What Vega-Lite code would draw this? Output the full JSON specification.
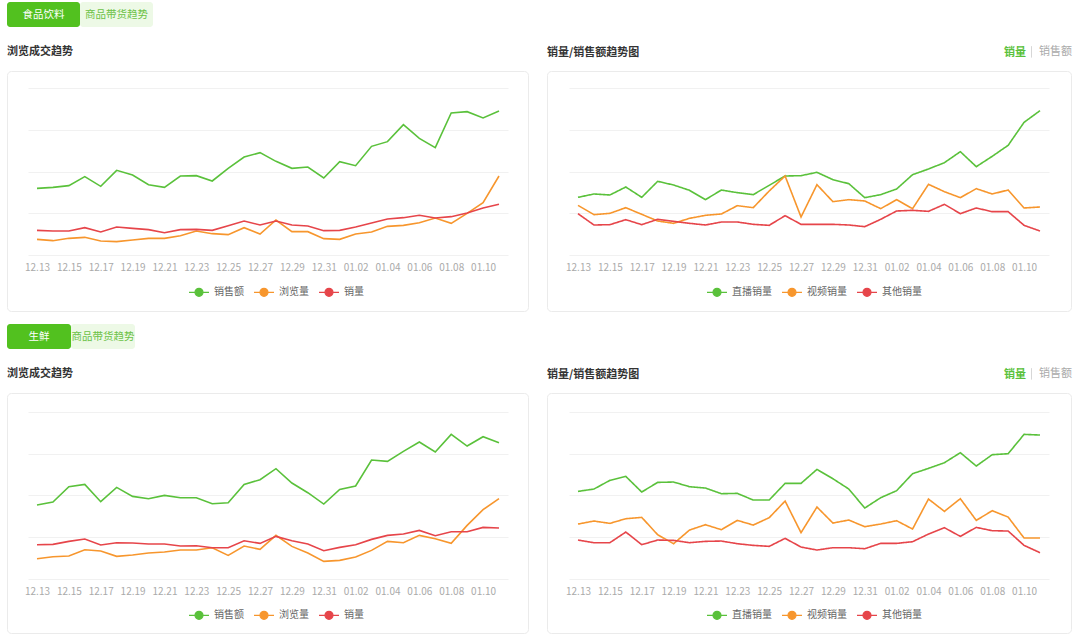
{
  "$schema": "https://vega.github.io/schema/vega-lite/v6.json",
  "padding": {"left": 6, "top": 2, "right": 4, "bottom": 2},
  "background": "#ffffff",
  "datasets": {
    "p1": [
      {"date":"12.13","销售额":1600,"浏览量":376,"销量":592},
      {"date":"12.14","销售额":1624,"浏览量":344,"销量":576},
      {"date":"12.15","销售额":1664,"浏览量":400,"销量":576},
      {"date":"12.16","销售额":1880,"浏览量":424,"销量":656},
      {"date":"12.17","销售额":1648,"浏览量":336,"销量":552},
      {"date":"12.18","销售额":2032,"浏览量":320,"销量":672},
      {"date":"12.19","销售额":1920,"浏览量":360,"销量":640},
      {"date":"12.20","销售额":1688,"浏览量":400,"销量":608},
      {"date":"12.21","销售额":1624,"浏览量":400,"销量":536},
      {"date":"12.22","销售额":1896,"浏览量":464,"销量":608},
      {"date":"12.23","销售额":1904,"浏览量":576,"销量":616},
      {"date":"12.24","销售额":1776,"浏览量":512,"销量":592},
      {"date":"12.25","销售额":2080,"浏览量":488,"销量":704},
      {"date":"12.26","销售额":2352,"浏览量":656,"销量":816},
      {"date":"12.27","销售额":2456,"浏览量":504,"销量":720},
      {"date":"12.28","销售额":2248,"浏览量":840,"销量":816},
      {"date":"12.29","销售额":2080,"浏览量":560,"销量":720},
      {"date":"12.30","销售额":2112,"浏览量":560,"销量":696},
      {"date":"12.31","销售额":1848,"浏览量":392,"销量":584},
      {"date":"01.01","销售额":2240,"浏览量":376,"销量":592},
      {"date":"01.02","销售额":2144,"浏览量":504,"销量":672},
      {"date":"01.03","销售额":2608,"浏览量":552,"销量":768},
      {"date":"01.04","销售额":2720,"浏览量":688,"销量":864},
      {"date":"01.05","销售额":3128,"浏览量":712,"销量":896},
      {"date":"01.06","销售额":2800,"浏览量":776,"销量":952},
      {"date":"01.07","销售额":2576,"浏览量":888,"销量":888},
      {"date":"01.08","销售额":3408,"浏览量":760,"销量":920},
      {"date":"01.09","销售额":3440,"浏览量":1000,"销量":1008},
      {"date":"01.10","销售额":3288,"浏览量":1256,"销量":1128},
      {"date":"01.11","销售额":3456,"浏览量":1896,"销量":1216}
    ],
    "p2": [
      {"date":"12.13","metric":"销量","直播销量":1384,"视频销量":1192,"其他销量":992},
      {"date":"12.14","metric":"销量","直播销量":1464,"视频销量":968,"其他销量":720},
      {"date":"12.15","metric":"销量","直播销量":1440,"视频销量":1000,"其他销量":728},
      {"date":"12.16","metric":"销量","直播销量":1632,"视频销量":1136,"其他销量":848},
      {"date":"12.17","metric":"销量","直播销量":1384,"视频销量":976,"其他销量":728},
      {"date":"12.18","metric":"销量","直播销量":1768,"视频销量":816,"其他销量":856},
      {"date":"12.19","metric":"销量","直播销量":1680,"视频销量":760,"其他销量":808},
      {"date":"12.20","metric":"销量","直播销量":1552,"视频销量":880,"其他销量":760},
      {"date":"12.21","metric":"销量","直播销量":1328,"视频销量":952,"其他销量":720},
      {"date":"12.22","metric":"销量","直播销量":1560,"视频销量":984,"其他销量":792},
      {"date":"12.23","metric":"销量","直播销量":1496,"视频销量":1184,"其他销量":792},
      {"date":"12.24","metric":"销量","直播销量":1448,"视频销量":1136,"其他销量":736},
      {"date":"12.25","metric":"销量","直播销量":1672,"视频销量":1536,"其他销量":712},
      {"date":"12.26","metric":"销量","直播销量":1896,"视频销量":1896,"其他销量":944},
      {"date":"12.27","metric":"销量","直播销量":1904,"视频销量":912,"其他销量":736},
      {"date":"12.28","metric":"销量","直播销量":1984,"视频销量":1688,"其他销量":736},
      {"date":"12.29","metric":"销量","直播销量":1808,"视频销量":1280,"其他销量":736},
      {"date":"12.30","metric":"销量","直播销量":1712,"视频销量":1328,"其他销量":720},
      {"date":"12.31","metric":"销量","直播销量":1376,"视频销量":1296,"其他销量":680},
      {"date":"01.01","metric":"销量","直播销量":1448,"视频销量":1112,"其他销量":856},
      {"date":"01.02","metric":"销量","直播销量":1584,"视频销量":1328,"其他销量":1056},
      {"date":"01.03","metric":"销量","直播销量":1928,"视频销量":1112,"其他销量":1072},
      {"date":"01.04","metric":"销量","直播销量":2064,"视频销量":1696,"其他销量":1048},
      {"date":"01.05","metric":"销量","直播销量":2216,"视频销量":1520,"其他销量":1216},
      {"date":"01.06","metric":"销量","直播销量":2480,"视频销量":1376,"其他销量":992},
      {"date":"01.07","metric":"销量","直播销量":2120,"视频销量":1592,"其他销量":1128},
      {"date":"01.08","metric":"销量","直播销量":2368,"视频销量":1464,"其他销量":1040},
      {"date":"01.09","metric":"销量","直播销量":2632,"视频销量":1560,"其他销量":1040},
      {"date":"01.10","metric":"销量","直播销量":3184,"视频销量":1128,"其他销量":712},
      {"date":"01.11","metric":"销量","直播销量":3464,"视频销量":1152,"其他销量":576}
    ],
    "p3": [
      {"date":"12.13","销售额":1768,"浏览量":480,"销量":816},
      {"date":"12.14","销售额":1840,"浏览量":528,"销量":824},
      {"date":"12.15","销售额":2208,"浏览量":544,"销量":896},
      {"date":"12.16","销售额":2264,"浏览量":696,"销量":952},
      {"date":"12.17","销售额":1848,"浏览量":664,"销量":808},
      {"date":"12.18","销售额":2192,"浏览量":536,"销量":864},
      {"date":"12.19","销售额":1976,"浏览量":568,"销量":856},
      {"date":"12.20","销售额":1920,"浏览量":616,"销量":832},
      {"date":"12.21","销售额":2000,"浏览量":640,"销量":832},
      {"date":"12.22","销售额":1944,"浏览量":688,"销量":784},
      {"date":"12.23","销售额":1944,"浏览量":688,"销量":792},
      {"date":"12.24","销售额":1800,"浏览量":744,"销量":744},
      {"date":"12.25","销售额":1824,"浏览量":560,"销量":744},
      {"date":"12.26","销售额":2264,"浏览量":784,"销量":912},
      {"date":"12.27","销售额":2376,"浏览量":704,"销量":848},
      {"date":"12.28","销售额":2640,"浏览量":1040,"销量":1016},
      {"date":"12.29","销售额":2296,"浏览量":776,"销量":912},
      {"date":"12.30","销售额":2064,"浏览量":616,"销量":832},
      {"date":"12.31","销售额":1792,"浏览量":416,"销量":672},
      {"date":"01.01","销售额":2144,"浏览量":440,"销量":752},
      {"date":"01.02","销售额":2224,"浏览量":520,"销量":816},
      {"date":"01.03","销售额":2848,"浏览量":680,"销量":944},
      {"date":"01.04","销售额":2816,"浏览量":896,"销量":1040},
      {"date":"01.05","销售额":3056,"浏览量":864,"销量":1072},
      {"date":"01.06","销售额":3280,"浏览量":1040,"销量":1160},
      {"date":"01.07","销售额":3040,"浏览量":960,"销量":1032},
      {"date":"01.08","销售额":3464,"浏览量":848,"销量":1128},
      {"date":"01.09","销售额":3184,"浏览量":1280,"销量":1128},
      {"date":"01.10","销售额":3408,"浏览量":1656,"销量":1232},
      {"date":"01.11","销售额":3264,"浏览量":1920,"销量":1216}
    ],
    "p4": [
      {"date":"12.13","metric":"销量","直播销量":2096,"视频销量":1312,"其他销量":928},
      {"date":"12.14","metric":"销量","直播销量":2152,"视频销量":1384,"其他销量":864},
      {"date":"12.15","metric":"销量","直播销量":2360,"视频销量":1328,"其他销量":864},
      {"date":"12.16","metric":"销量","直播销量":2456,"视频销量":1440,"其他销量":1120},
      {"date":"12.17","metric":"销量","直播销量":2080,"视频销量":1472,"其他销量":816},
      {"date":"12.18","metric":"销量","直播销量":2312,"视频销量":1056,"其他销量":928},
      {"date":"12.19","metric":"销量","直播销量":2320,"视频销量":840,"其他销量":920},
      {"date":"12.20","metric":"销量","直播销量":2208,"视频销量":1168,"其他销量":864},
      {"date":"12.21","metric":"销量","直播销量":2176,"视频销量":1296,"其他销量":896},
      {"date":"12.22","metric":"销量","直播销量":2040,"视频销量":1176,"其他销量":904},
      {"date":"12.23","metric":"销量","直播销量":2048,"视频销量":1400,"其他销量":840},
      {"date":"12.24","metric":"销量","直播销量":1888,"视频销量":1288,"其他销量":800},
      {"date":"12.25","metric":"销量","直播销量":1888,"视频销量":1464,"其他销量":776},
      {"date":"12.26","metric":"销量","直播销量":2288,"视频销量":1864,"其他销量":968},
      {"date":"12.27","metric":"销量","直播销量":2288,"视频销量":1104,"其他销量":760},
      {"date":"12.28","metric":"销量","直播销量":2624,"视频销量":1720,"其他销量":688},
      {"date":"12.29","metric":"销量","直播销量":2400,"视频销量":1336,"其他销量":744},
      {"date":"12.30","metric":"销量","直播销量":2152,"视频销量":1408,"其他销量":744},
      {"date":"12.31","metric":"销量","直播销量":1696,"视频销量":1248,"其他销量":720},
      {"date":"01.01","metric":"销量","直播销量":1944,"视频销量":1312,"其他销量":848},
      {"date":"01.02","metric":"销量","直播销量":2112,"视频销量":1392,"其他销量":848},
      {"date":"01.03","metric":"销量","直播销量":2520,"视频销量":1192,"其他销量":888},
      {"date":"01.04","metric":"销量","直播销量":2648,"视频销量":1912,"其他销量":1072},
      {"date":"01.05","metric":"销量","直播销量":2784,"视频销量":1616,"其他销量":1224},
      {"date":"01.06","metric":"销量","直播销量":3024,"视频销量":1920,"其他销量":1016},
      {"date":"01.07","metric":"销量","直播销量":2704,"视频销量":1400,"其他销量":1232},
      {"date":"01.08","metric":"销量","直播销量":2976,"视频销量":1632,"其他销量":1152},
      {"date":"01.09","metric":"销量","直播销量":3000,"视频销量":1480,"其他销量":1144},
      {"date":"01.10","metric":"销量","直播销量":3464,"视频销量":976,"其他销量":800},
      {"date":"01.11","metric":"销量","直播销量":3448,"视频销量":976,"其他销量":624}
    ]
  },
  "spacing": 12,
  "resolve": {"scale": {"x": "independent", "y": "independent", "color": "independent", "strokeDash": "independent"}, "legend": {"color": "independent", "strokeDash": "independent"}},
  "vconcat": [
    {
      "spacing": 18,
      "resolve": {"scale": {"x": "independent", "y": "independent", "color": "independent", "strokeDash": "independent"}, "legend": {"color": "independent", "strokeDash": "independent"}},
      "vconcat": [
        {
          "width": 146, "height": 25,
          "view": {"stroke": null},
          "data": {"values": [{"tab": "食品饮料", "state": "当前"}, {"tab": "商品带货趋势", "state": "其他"}]},
          "encoding": {"x": {"field": "tab", "type": "nominal", "sort": null, "scale": {"paddingInner": 0, "paddingOuter": 0}, "axis": null}},
          "layer": [
            {"mark": {"type": "rect", "cornerRadius": 3}, "encoding": {"color": {"condition": {"test": "datum.state === '当前'", "value": "#52c11f"}, "value": "#edf9e6"}}},
            {"mark": {"type": "text", "fontSize": 10.5}, "encoding": {"text": {"field": "tab"}, "color": {"condition": {"test": "datum.state === '当前'", "value": "#ffffff"}, "value": "#6cc247"}}}
          ]
        },
        {
          "spacing": 17,
          "resolve": {"scale": {"x": "independent", "y": "independent", "color": "independent", "strokeDash": "independent"}, "legend": {"color": "independent", "strokeDash": "independent"}},
          "hconcat": [
            {
              "width": 521, "height": 240,
              "title": {"text": "浏览成交趋势"},
              "data": {"name": "p1"},
              "transform": [{"fold": ["销售额", "浏览量", "销量"], "as": ["series", "value"]}],
              "mark": {"type": "line", "strokeWidth": 1.6},
              "encoding": {
                "x": {"field": "date", "type": "ordinal", "sort": null, "scale": {"type": "point", "range": [21, 501], "padding": 0.565},
                      "axis": {"values": ["12.13","12.15","12.17","12.19","12.21","12.23","12.25","12.27","12.29","12.31","01.02","01.04","01.06","01.08","01.10"], "offset": -56, "labelAngle": 0, "labelPadding": 7, "title": null, "grid": false}},
                "y": {"field": "value", "type": "quantitative", "scale": {"domain": [-1344, 4416], "nice": false, "zero": false},
                      "axis": {"values": [0, 1000, 2000, 3000, 4000], "labels": false, "title": null, "grid": true}},
                "color": {"field": "series", "type": "nominal", "scale": {"domain": ["销售额", "浏览量", "销量"], "range": ["#5ac13b", "#f7962d", "#e6454a"]},
                          "legend": {"orient": "none", "legendX": 181, "legendY": 210, "direction": "horizontal", "title": null,
                                     "symbolType": "M-1,0L-0.4,0M0.4,0L1,0M0.4,0A0.4,0.4 0 1 1 -0.4,0A0.4,0.4 0 1 1 0.4,0Z",
                                     "symbolSize": 400, "symbolStrokeWidth": 1.2, "labelOffset": 4, "columnPadding": 7,
                                     "encode": {"symbols": {"update": {"fill": {"signal": "datum.value === '销售额' ? '#5ac13b' : datum.value === '浏览量' ? '#f7962d' : '#e6454a'"}}}}}}
              }
            },
            {
              "width": 524, "height": 240,
              "data": {"name": "p2"},
              "transform": [{"fold": ["直播销量", "视频销量", "其他销量"], "as": ["series", "value"]}],
              "mark": {"type": "line", "strokeWidth": 1.6},
              "encoding": {
                "x": {"field": "date", "type": "ordinal", "sort": null, "scale": {"type": "point", "range": [22, 502], "padding": 0.565},
                      "axis": {"values": ["12.13","12.15","12.17","12.19","12.21","12.23","12.25","12.27","12.29","12.31","01.02","01.04","01.06","01.08","01.10"], "offset": -56, "labelAngle": 0, "labelPadding": 7, "title": null, "grid": false}},
                "y": {"field": "value", "type": "quantitative", "scale": {"domain": [-1344, 4416], "nice": false, "zero": false},
                      "axis": {"values": [0, 1000, 2000, 3000, 4000], "labels": false, "title": null, "grid": true}},
                "color": {"field": "series", "type": "nominal", "scale": {"domain": ["直播销量", "视频销量", "其他销量"], "range": ["#5ac13b", "#f7962d", "#e6454a"]},
                          "legend": {"orient": "none", "legendX": 159, "legendY": 210, "direction": "horizontal", "title": null,
                                     "symbolType": "M-1,0L-0.4,0M0.4,0L1,0M0.4,0A0.4,0.4 0 1 1 -0.4,0A0.4,0.4 0 1 1 0.4,0Z",
                                     "symbolSize": 400, "symbolStrokeWidth": 1.2, "labelOffset": 4, "columnPadding": 7,
                                     "encode": {"symbols": {"update": {"fill": {"signal": "datum.value === '直播销量' ? '#5ac13b' : datum.value === '视频销量' ? '#f7962d' : '#e6454a'"}}}}}},
                "strokeDash": {"field": "metric", "type": "nominal", "scale": {"domain": ["销量", "销售额"], "range": [[1, 0], [1, 0]]},
                               "legend": {"orient": "none", "legendX": 0, "legendY": -25, "direction": "horizontal",
                                          "title": "销量/销售额趋势图", "titleOrient": "left", "titlePadding": 351, "titleFontSize": 11, "titleFontWeight": "bold", "titleColor": "#333333", "titleBaseline": "middle", "titleFont": "Noto Sans CJK SC",
                                          "symbolType": "M0,-1.4L0,1.4", "symbolSize": 64, "symbolStrokeWidth": 1, "labelOffset": 2, "columnPadding": 0, "labelFontSize": 11,
                                          "encode": {"symbols": {"update": {"stroke": {"value": "#cccccc"}, "opacity": {"signal": "datum.value === '销量' ? 0 : 1"}}},
                                                     "labels": {"update": {"fill": {"signal": "datum.value === '销量' ? '#5ac13b' : '#aaaaaa'"}, "fontWeight": {"signal": "datum.value === '销量' ? 'bold' : 'normal'"}}}}}}
              }
            }
          ]
        }
      ]
    },
    {
      "spacing": 18,
      "resolve": {"scale": {"x": "independent", "y": "independent", "color": "independent", "strokeDash": "independent"}, "legend": {"color": "independent", "strokeDash": "independent"}},
      "vconcat": [
        {
          "width": 128, "height": 25,
          "view": {"stroke": null},
          "data": {"values": [{"tab": "生鲜", "state": "当前"}, {"tab": "商品带货趋势", "state": "其他"}]},
          "encoding": {"x": {"field": "tab", "type": "nominal", "sort": null, "scale": {"paddingInner": 0, "paddingOuter": 0}, "axis": null}},
          "layer": [
            {"mark": {"type": "rect", "cornerRadius": 3}, "encoding": {"color": {"condition": {"test": "datum.state === '当前'", "value": "#52c11f"}, "value": "#edf9e6"}}},
            {"mark": {"type": "text", "fontSize": 10.5}, "encoding": {"text": {"field": "tab"}, "color": {"condition": {"test": "datum.state === '当前'", "value": "#ffffff"}, "value": "#6cc247"}}}
          ]
        },
        {
          "spacing": 17,
          "resolve": {"scale": {"x": "independent", "y": "independent", "color": "independent", "strokeDash": "independent"}, "legend": {"color": "independent", "strokeDash": "independent"}},
          "hconcat": [
            {
              "width": 521, "height": 240,
              "title": {"text": "浏览成交趋势"},
              "data": {"name": "p3"},
              "transform": [{"fold": ["销售额", "浏览量", "销量"], "as": ["series", "value"]}],
              "mark": {"type": "line", "strokeWidth": 1.6},
              "encoding": {
                "x": {"field": "date", "type": "ordinal", "sort": null, "scale": {"type": "point", "range": [21, 501], "padding": 0.565},
                      "axis": {"values": ["12.13","12.15","12.17","12.19","12.21","12.23","12.25","12.27","12.29","12.31","01.02","01.04","01.06","01.08","01.10"], "offset": -54, "labelAngle": 0, "labelPadding": 7, "title": null, "grid": false}},
                "y": {"field": "value", "type": "quantitative", "scale": {"domain": [-1303, 4457], "nice": false, "zero": false},
                      "axis": {"values": [0, 1000, 2000, 3000, 4000], "labels": false, "title": null, "grid": true}},
                "color": {"field": "series", "type": "nominal", "scale": {"domain": ["销售额", "浏览量", "销量"], "range": ["#5ac13b", "#f7962d", "#e6454a"]},
                          "legend": {"orient": "none", "legendX": 181, "legendY": 211, "direction": "horizontal", "title": null,
                                     "symbolType": "M-1,0L-0.4,0M0.4,0L1,0M0.4,0A0.4,0.4 0 1 1 -0.4,0A0.4,0.4 0 1 1 0.4,0Z",
                                     "symbolSize": 400, "symbolStrokeWidth": 1.2, "labelOffset": 4, "columnPadding": 7,
                                     "encode": {"symbols": {"update": {"fill": {"signal": "datum.value === '销售额' ? '#5ac13b' : datum.value === '浏览量' ? '#f7962d' : '#e6454a'"}}}}}}
              }
            },
            {
              "width": 524, "height": 240,
              "data": {"name": "p4"},
              "transform": [{"fold": ["直播销量", "视频销量", "其他销量"], "as": ["series", "value"]}],
              "mark": {"type": "line", "strokeWidth": 1.6},
              "encoding": {
                "x": {"field": "date", "type": "ordinal", "sort": null, "scale": {"type": "point", "range": [22, 502], "padding": 0.565},
                      "axis": {"values": ["12.13","12.15","12.17","12.19","12.21","12.23","12.25","12.27","12.29","12.31","01.02","01.04","01.06","01.08","01.10"], "offset": -54, "labelAngle": 0, "labelPadding": 7, "title": null, "grid": false}},
                "y": {"field": "value", "type": "quantitative", "scale": {"domain": [-1303, 4457], "nice": false, "zero": false},
                      "axis": {"values": [0, 1000, 2000, 3000, 4000], "labels": false, "title": null, "grid": true}},
                "color": {"field": "series", "type": "nominal", "scale": {"domain": ["直播销量", "视频销量", "其他销量"], "range": ["#5ac13b", "#f7962d", "#e6454a"]},
                          "legend": {"orient": "none", "legendX": 159, "legendY": 211, "direction": "horizontal", "title": null,
                                     "symbolType": "M-1,0L-0.4,0M0.4,0L1,0M0.4,0A0.4,0.4 0 1 1 -0.4,0A0.4,0.4 0 1 1 0.4,0Z",
                                     "symbolSize": 400, "symbolStrokeWidth": 1.2, "labelOffset": 4, "columnPadding": 7,
                                     "encode": {"symbols": {"update": {"fill": {"signal": "datum.value === '直播销量' ? '#5ac13b' : datum.value === '视频销量' ? '#f7962d' : '#e6454a'"}}}}}},
                "strokeDash": {"field": "metric", "type": "nominal", "scale": {"domain": ["销量", "销售额"], "range": [[1, 0], [1, 0]]},
                               "legend": {"orient": "none", "legendX": 0, "legendY": -25, "direction": "horizontal",
                                          "title": "销量/销售额趋势图", "titleOrient": "left", "titlePadding": 351, "titleFontSize": 11, "titleFontWeight": "bold", "titleColor": "#333333", "titleBaseline": "middle", "titleFont": "Noto Sans CJK SC",
                                          "symbolType": "M0,-1.4L0,1.4", "symbolSize": 64, "symbolStrokeWidth": 1, "labelOffset": 2, "columnPadding": 0, "labelFontSize": 11,
                                          "encode": {"symbols": {"update": {"stroke": {"value": "#cccccc"}, "opacity": {"signal": "datum.value === '销量' ? 0 : 1"}}},
                                                     "labels": {"update": {"fill": {"signal": "datum.value === '销量' ? '#5ac13b' : '#aaaaaa'"}, "fontWeight": {"signal": "datum.value === '销量' ? 'bold' : 'normal'"}}}}}}
              }
            }
          ]
        }
      ]
    }
  ],
  "config": {
    "font": "Noto Sans CJK SC",
    "view": {"stroke": "#ebebeb", "cornerRadius": 4, "strokeWidth": 1, "fill": "#ffffff"},
    "title": {"anchor": "start", "frame": "group", "fontSize": 11, "fontWeight": "bold", "color": "#333333", "offset": 14},
    "axis": {"labelFont": "Noto Sans CJK SC", "labelFontSize": 10, "labelColor": "#aaaaaa", "gridColor": "#f1f1f1", "gridWidth": 1, "domain": false, "ticks": false, "tickSize": 0},
    "legend": {"labelFont": "Noto Sans CJK SC", "labelFontSize": 10, "labelColor": "#666666", "padding": 0},
    "text": {"font": "Noto Sans CJK SC"}
  }
}
